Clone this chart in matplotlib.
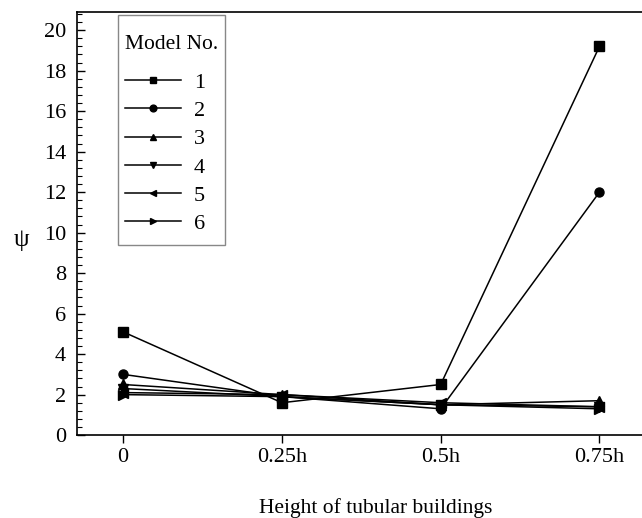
import matplotlib

matplotlib.use("Agg")
import matplotlib.pyplot as plt
from matplotlib.offsetbox import DrawingArea, VPacker
from matplotlib.ticker import AutoMinorLocator, MultipleLocator

# Measurement heights along the tubular buildings
heights = ["0", "0.25h", "0.5h", "0.75h"]

# psi values per model, one list per height position
model_1 = [5.1, 1.6, 2.5, 19.2]
model_2 = [3.0, 1.9, 1.3, 12.0]
model_3 = [2.5, 2.0, 1.5, 1.7]
model_4 = [2.3, 1.9, 1.5, 1.4]
model_5 = [2.1, 2.0, 1.6, 1.4]
model_6 = [2.0, 1.9, 1.5, 1.3]

models = ["1", "2", "3", "4", "5", "6"]
markers = ["s", "o", "^", "v", "<", ">"]

plt.rcParams["font.family"] = ["Liberation Serif", "DejaVu Serif"]

fig = plt.figure(figsize=(6.42, 5.18), dpi=100)
ax = fig.add_axes([0.12, 0.16, 0.888, 0.817])

series = [model_1, model_2, model_3, model_4, model_5, model_6]
positions = range(len(heights))
for values, label, marker in zip(series, models, markers):
    ax.plot(positions, values, color="black", linewidth=1.1,
            marker=marker, markersize=6.5, label=label)

ax.set_xlim(-0.29, 3.3)
ax.set_ylim(0, 20.9)
ax.set_xticks(list(positions))
ax.set_xticklabels(heights)
ax.yaxis.set_major_locator(MultipleLocator(2))
ax.yaxis.set_minor_locator(AutoMinorLocator(5))

ax.tick_params(axis="x", direction="out", length=6, width=1, labelsize=16, pad=3)
ax.tick_params(axis="y", which="major", direction="in", length=6, width=1,
               labelsize=16, pad=8)
ax.tick_params(axis="y", which="minor", direction="in", length=3.5, width=0.8)

for spine in ax.spines.values():
    spine.set_linewidth(1.2)

ax.set_xlabel("Height of tubular buildings", fontsize=15.5, va="center")
ax.xaxis.set_label_coords(0.523, -0.172)
ax.set_ylabel("\u03c8", fontsize=18, rotation=0, ha="center", va="center")
ax.yaxis.set_label_coords(-0.098, 0.46)

legend = ax.legend(title="Model No.", loc="upper left", bbox_to_anchor=(0.072, 0.993),
                   borderaxespad=0, fontsize=16, title_fontsize=15.5,
                   handlelength=2.55, handletextpad=0.55, labelspacing=0.345,
                   markerscale=0.75, fancybox=False, edgecolor="#888888",
                   framealpha=1, alignment="left", borderpad=0.3)
legend.get_frame().set_linewidth(1.0)

# extra room above the title, between the title and the entries, and below
box = legend._legend_box
title_box = box._children[0]
box._children[0] = VPacker(children=[DrawingArea(0, 9.5), title_box],
                           pad=0, sep=0, align="left")
box._children[1] = VPacker(children=[box._children[1], DrawingArea(0, 3)],
                           pad=0, sep=0, align="left")
box.sep = 13.5

fig.savefig("out.png", dpi=100)
